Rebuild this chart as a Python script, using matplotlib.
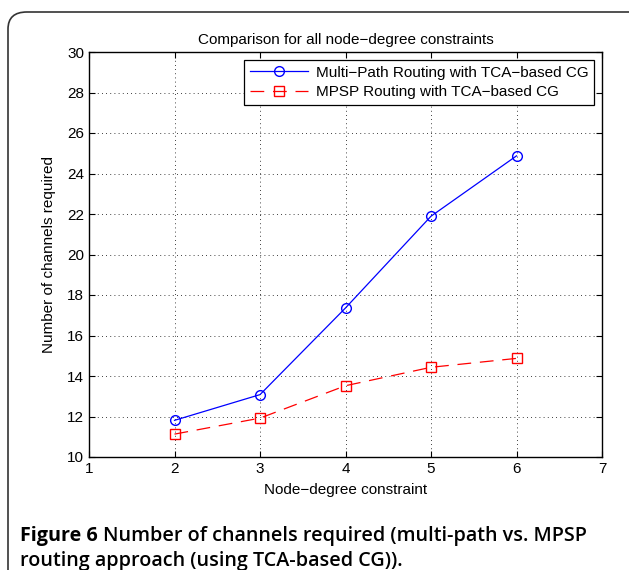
import matplotlib
matplotlib.use("Agg")
import matplotlib.pyplot as plt
from matplotlib.patches import FancyBboxPatch

x_degree = [2, 3, 4, 5, 6]
multipath = [11.81, 13.08, 17.36, 21.89, 24.87]
mpsp = [11.13, 11.92, 13.52, 14.43, 14.87]
series_labels = ["Multi\u2212Path Routing with TCA\u2212based CG", "MPSP Routing with TCA\u2212based CG"]
x_ticks = [1, 2, 3, 4, 5, 6, 7]
y_ticks = [10, 12, 14, 16, 18, 20, 22, 24, 26, 28, 30]

plt.rcParams['font.family'] = ['Liberation Sans', 'DejaVu Sans']

fig = plt.figure(figsize=(6.29, 5.7), dpi=100)
ax = fig.add_axes([89/629, 1-457/570, (602-89)/629, (457-52)/570])

ax.plot(x_degree, multipath, color='blue', linestyle='-', linewidth=0.9, marker='o',
        markersize=7, markerfacecolor='none', markeredgecolor='blue', label=series_labels[0])
ax.plot(x_degree, mpsp, color='red', linestyle=(0, (11, 7)), linewidth=0.9, marker='s',
        markersize=7, markerfacecolor='none', markeredgecolor='red', label=series_labels[1])

ax.set_xlim(1, 7)
ax.set_ylim(10, 30)
ax.set_xticks(x_ticks)
ax.set_yticks(y_ticks)
ax.tick_params(direction='in', top=True, right=True, labelsize=11, length=4, width=0.8)
ax.grid(True, linestyle=(0, (1, 4)), color='black', linewidth=0.6)
for s in ax.spines.values():
    s.set_linewidth(1.0)

ax.set_title("Comparison for all node\u2212degree constraints", fontsize=11, pad=6)
ax.set_xlabel("Node\u2212degree constraint", fontsize=11, labelpad=5)
ax.set_ylabel("Number of channels required", fontsize=11, labelpad=8)

leg = ax.legend(loc='upper right', fontsize=11, frameon=True, fancybox=False,
                edgecolor='black', framealpha=1, borderaxespad=0.5, handlelength=3.8,
                borderpad=0.4, labelspacing=0.35, handletextpad=0.5)
leg.get_frame().set_linewidth(0.9)

box = FancyBboxPatch((8/629, -0.2), 1.2, 1-12/570+0.2, boxstyle="round,pad=0,rounding_size=0.03",
                     transform=fig.transFigure, facecolor='none', edgecolor='#333333',
                     linewidth=1.2, clip_on=False)
fig.patches.append(box)

fig.canvas.draw()
r = fig.canvas.get_renderer()
t1 = fig.text(20/629, 1-541/570, "Figure 6", fontsize=14.2, fontweight='bold',
              family=['Open Sans', 'DejaVu Sans'], ha='left', va='baseline')
bb = t1.get_window_extent(renderer=r)
fig.text(bb.x1/629 + 5/629, 1-541/570, "Number of channels required (multi-path vs. MPSP",
         fontsize=14.2, fontweight='semibold', family=['Open Sans', 'DejaVu Sans'], ha='left', va='baseline')
fig.text(20/629, 1-566/570, "routing approach (using TCA-based CG)).", fontsize=14.2,
         fontweight='semibold', family=['Open Sans', 'DejaVu Sans'], ha='left', va='baseline')

fig.savefig("out.png", dpi=100)
